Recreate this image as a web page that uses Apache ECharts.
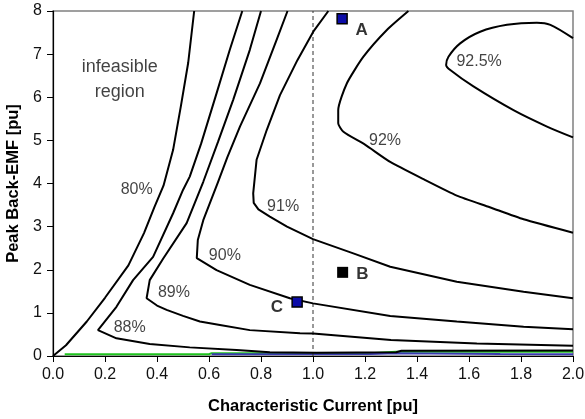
<!DOCTYPE html>
<html>
<head>
<meta charset="utf-8">
<script src="https://cdn.jsdelivr.net/npm/echarts@6/dist/echarts.min.js"></script>
<style>
  html, body { margin: 0; padding: 0; background: #fff; }
  #chart { width: 585px; height: 419px; }
</style>
</head>
<body>
<div id="chart"></div>
<script>
// Efficiency contours: [characteristic current, peak back-EMF] in pu
const eff80 = [[0,0],[0.05,0.25],[0.13,0.80],[0.20,1.35],[0.29,2.10],[0.35,2.85],[0.39,3.45],[0.425,3.95],[0.462,4.78],[0.492,5.80],[0.520,6.80],[0.543,8]];
const eff88 = [[0.728,8],[0.68,7.10],[0.629,6.09],[0.57,4.93],[0.526,4.16],[0.50,3.85],[0.462,3.31],[0.385,2.30],[0.308,1.76],[0.244,1.14],[0.173,0.60],[0.244,0.41],[0.372,0.28],[0.526,0.20],[0.706,0.14],[0.834,0.085],[1.014,0.077],[1.32,0.085],[1.34,0.12],[2.0,0.125]];
const eff89 = [[0.80,8],[0.757,7.10],[0.693,5.94],[0.635,4.97],[0.578,4.04],[0.514,3.08],[0.424,2.26],[0.372,1.76],[0.36,1.34],[0.40,1.17],[0.437,1.07],[0.50,0.93],[0.565,0.80],[0.642,0.72],[0.757,0.60],[0.95,0.53],[1.0,0.52],[1.30,0.37],[1.63,0.29],[2.0,0.24]];
const eff90 = [[0.902,8],[0.860,7.33],[0.796,6.32],[0.719,5.32],[0.67,4.6],[0.635,4.04],[0.578,3.15],[0.557,2.69],[0.553,2.27],[0.629,1.99],[0.757,1.65],[0.911,1.34],[1.0,1.22],[1.297,0.93],[1.553,0.80],[1.81,0.68],[2.0,0.62]];
const eff91 = [[1.059,8],[1.001,7.52],[0.940,6.86],[0.873,6.05],[0.822,5.24],[0.783,4.55],[0.770,3.77],[0.772,3.55],[0.79,3.40],[0.834,3.23],[0.90,3.0],[1.0,2.71],[1.155,2.38],[1.297,2.07],[1.553,1.72],[1.81,1.49],[2.0,1.34]];
const eff92 = [[1.367,8],[1.284,7.56],[1.194,6.94],[1.13,6.32],[1.097,5.70],[1.097,5.40],[1.117,5.20],[1.20,4.90],[1.297,4.50],[1.425,4.10],[1.553,3.72],[1.68,3.45],[1.81,3.17],[2.0,2.86]];
const eff925 = [[2.0,7.37],[1.913,7.68],[1.861,7.73],[1.746,7.68],[1.643,7.52],[1.566,7.25],[1.521,6.94],[1.512,6.75],[1.528,6.63],[1.617,6.25],[1.771,5.70],[1.90,5.32],[2.0,5.07]];

// Traces along the bottom of the map
const greenTrace = [[0.045,0.04],[0.60,0.04],[0.61,0.065],[1.22,0.065],[1.32,0.10],[2.0,0.10]];
const blueTrace = [[0.61,0.04],[1.22,0.045],[1.22,0.065],[1.32,0.065],[1.32,0.045],[1.72,0.045],[2.0,0.04]];

// Design points
const pointA = [1.112, 7.82];
const pointB = [1.114, 1.94];
const pointC = [0.939, 1.25];

// Contour labels and their positions
const contourLabels = ['80%', '88%', '89%', '90%', '91%', '92%', '92.5%'];
const contourLabelPos = [[0.322,3.85],[0.295,0.65],[0.465,1.46],[0.661,2.32],[0.885,3.46],[1.277,4.99],[1.639,6.82]];

const xMin = 0, xMax = 2, xStep = 0.2;
const yMin = 0, yMax = 8, yStep = 1;
const refCurrent = 1.0;

const FONT = 'Liberation Sans, Arial, sans-serif';

function contour(data, smooth) {
  return {
    type: 'line', data: data, symbol: 'none', smooth: smooth || false,
    lineStyle: { color: '#000', width: 2 }, silent: true, z: 3
  };
}

const chart = echarts.init(document.getElementById('chart'), null, { renderer: 'canvas' });

const series = [
  contour(eff80), contour(eff88), contour(eff89), contour(eff90),
  contour(eff91), contour(eff92, 0.2), contour(eff925, 0.3),
  { type: 'line', data: greenTrace, symbol: 'none', lineStyle: { color: '#1fc41f', width: 2 }, z: 2 },
  { type: 'line', data: blueTrace, symbol: 'none', lineStyle: { color: '#3a3ab0', width: 2 }, z: 2 },
  { type: 'line', data: [[refCurrent, yMin], [refCurrent, yMax]], symbol: 'none',
    lineStyle: { color: '#333', width: 1, type: [4, 3] }, z: 2 },
  { type: 'scatter', data: contourLabels.map((t, i) => ({ value: contourLabelPos[i], name: t })),
    symbolSize: 1, itemStyle: { color: 'rgba(0,0,0,0)' },
    label: { show: true, position: 'inside', formatter: p => p.name, color: '#111', fontSize: 16, fontFamily: FONT }, z: 4 },
  { type: 'scatter', data: [{ value: [0.257, 6.40], name: 'infeasible\nregion' }],
    symbolSize: 1, itemStyle: { color: 'rgba(0,0,0,0)' },
    label: { show: true, position: 'inside', formatter: p => p.name, color: '#111', fontSize: 18, lineHeight: 25, fontFamily: FONT, align: 'center' }, z: 4 },
  { type: 'scatter', data: [{ value: pointA, name: 'A' }, { value: pointC, name: 'C' }],
    symbol: 'rect', symbolSize: 10,
    itemStyle: { color: '#0c0ca8', borderColor: '#000', borderWidth: 1.5, opacity: 1 }, z: 5 },
  { type: 'scatter', data: [{ value: pointB, name: 'B' }],
    symbol: 'rect', symbolSize: 11, itemStyle: { color: '#000', opacity: 1 }, z: 5 },
  // point letters
  { type: 'scatter', data: [
      { value: pointA, name: 'A', label: { position: [14, 4] } },
      { value: pointB, name: 'B', label: { position: [14, -6] } },
      { value: pointC, name: 'C', label: { position: [-26, -3] } }
    ],
    symbolSize: 1, itemStyle: { color: 'rgba(0,0,0,0)' },
    label: { show: true, formatter: p => p.name, color: '#000', fontSize: 17, fontWeight: 'bold', fontFamily: FONT }, z: 6 }
];

chart.setOption({
  animation: false,
  backgroundColor: '#fff',
  grid: { left: 53, right: 12, top: 11, bottom: 63, containLabel: false, outerBoundsMode: 'none',
          show: true, borderColor: '#808080', borderWidth: 1.5, backgroundColor: 'transparent' },
  xAxis: {
    type: 'value', min: xMin, max: xMax, interval: xStep,
    name: 'Characteristic Current [pu]', nameLocation: 'middle', nameGap: 42,
    nameTextStyle: { fontSize: 16.5, fontWeight: 'bold', color: '#000', fontFamily: FONT },
    axisLine: { show: true, onZero: false, lineStyle: { color: '#000', width: 1.2 } },
    axisTick: { show: true, inside: false, length: 6, lineStyle: { color: '#000' } },
    axisLabel: { margin: 11, fontSize: 16, color: '#111', fontFamily: FONT, formatter: v => v.toFixed(1) },
    splitLine: { show: false }
  },
  yAxis: {
    type: 'value', min: yMin, max: yMax, interval: yStep,
    name: 'Peak Back-EMF [pu]', nameLocation: 'middle', nameGap: 31,
    nameTextStyle: { fontSize: 16.5, fontWeight: 'bold', color: '#000', fontFamily: FONT },
    axisLine: { show: true, onZero: false, lineStyle: { color: '#000', width: 1.2 } },
    axisTick: { show: true, inside: false, length: 6, lineStyle: { color: '#000' } },
    axisLabel: { margin: 11, fontSize: 16, color: '#111', fontFamily: FONT },
    splitLine: { show: false }
  },
  series: series
});
</script>
</body>
</html>
